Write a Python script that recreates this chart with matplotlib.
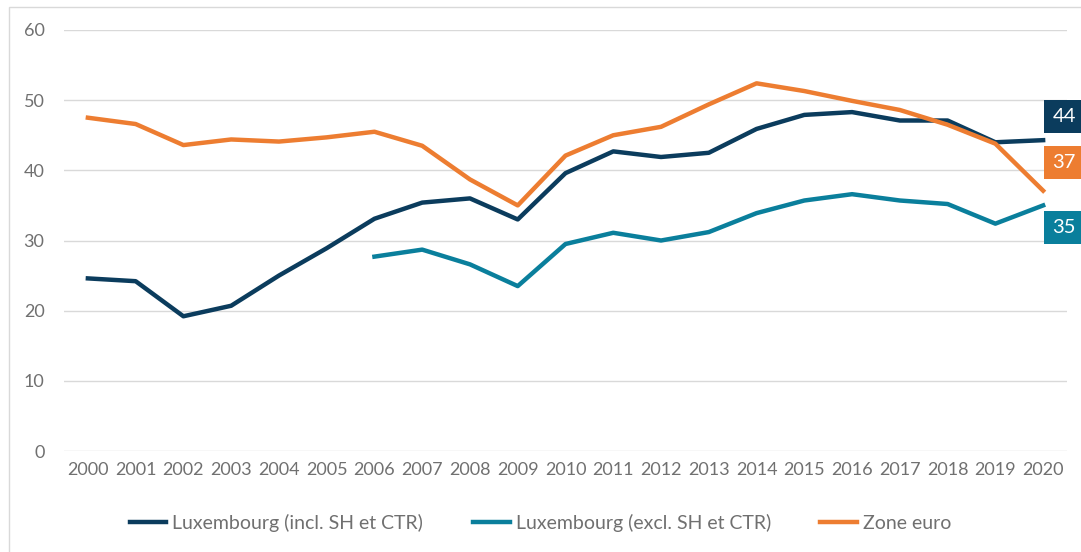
import numpy as np
import matplotlib.pyplot as plt
from matplotlib.patches import Rectangle

plt.rcParams['font.family'] = ['Lato', 'DejaVu Sans']

years = [str(y) for y in range(2000, 2021)]

# Luxembourg (incl. SH et CTR)
lux_incl = [24.6, 24.2, 19.2, 20.7, 25.0, 28.9, 33.1, 35.4, 36.0, 33.0, 39.6,
            42.7, 41.9, 42.5, 45.9, 47.9, 48.3, 47.1, 47.1, 44.0, 44.3]
# Luxembourg (excl. SH et CTR) - starts in 2006
lux_excl = [np.nan] * 6 + [27.7, 28.7, 26.6, 23.5, 29.5, 31.1, 30.0, 31.2,
                           33.9, 35.7, 36.6, 35.7, 35.2, 32.4, 35.0]
# Zone euro
zone_euro = [47.5, 46.6, 43.6, 44.4, 44.1, 44.7, 45.5, 43.5, 38.7, 35.0, 42.1,
             45.0, 46.2, 49.4, 52.4, 51.3, 49.9, 48.6, 46.5, 43.8, 37.1]

end_labels = ['44', '37', '35']

navy = '#0b3c5d'
teal = '#0a7f9c'
orange = '#ed7d31'
grey = '#707070'

fig = plt.figure(figsize=(10.81, 5.52), dpi=100)
# thin frame around the chart (like the Excel chart area)
fig.patches.append(Rectangle((9 / 1081, -0.1), 1.2, 1 - 7 / 552 + 0.1,
                             transform=fig.transFigure, fill=False,
                             edgecolor='#d9d9d9', lw=1))

ax = fig.add_axes([64 / 1081, 1 - 451 / 552, (1067 - 64) / 1081, (451 - 30) / 552])

x = np.arange(len(years))
ax.plot(x, lux_incl, color=navy, lw=3.2, label='Luxembourg (incl. SH et CTR)', zorder=3)
ax.plot(x, lux_excl, color=teal, lw=3.2, label='Luxembourg (excl. SH et CTR)', zorder=3)
ax.plot(x, zone_euro, color=orange, lw=3.2, label='Zone euro', zorder=3)

ax.set_xlim(-0.5, len(years) - 0.5)
ax.set_ylim(0, 60)
ax.set_yticks(range(0, 61, 10))
ax.set_xticks(x)
ax.set_xticklabels(years)
ax.yaxis.grid(True, color='#d9d9d9', lw=1)
ax.set_axisbelow(True)
for s in ax.spines.values():
    s.set_visible(False)
ax.tick_params(axis='both', length=0, labelsize=13, labelcolor=grey)
ax.tick_params(axis='y', pad=14)
ax.tick_params(axis='x', pad=8)

# value boxes at the end of the lines
series = [lux_incl, zone_euro, lux_excl]
colors = [navy, orange, teal]
offsets = [24, 28, -22]
for txt, s, c, dy in zip(end_labels, series, colors, offsets):
    ax.annotate(txt, xy=(x[-1], s[-1]), xytext=(21, dy), textcoords='offset pixels',
                ha='center', va='center', color='white', fontsize=14.5,
                bbox=dict(boxstyle='square,pad=0.4', fc=c, ec='none'),
                annotation_clip=False)

ax.legend(loc='center', bbox_to_anchor=(0.5, 1 - 523 / 552), bbox_transform=fig.transFigure,
          ncol=3, frameon=False, fontsize=14, handlelength=1.9, handletextpad=0.3,
          columnspacing=2.55, labelcolor=grey)

fig.savefig('out.png', dpi=100)
